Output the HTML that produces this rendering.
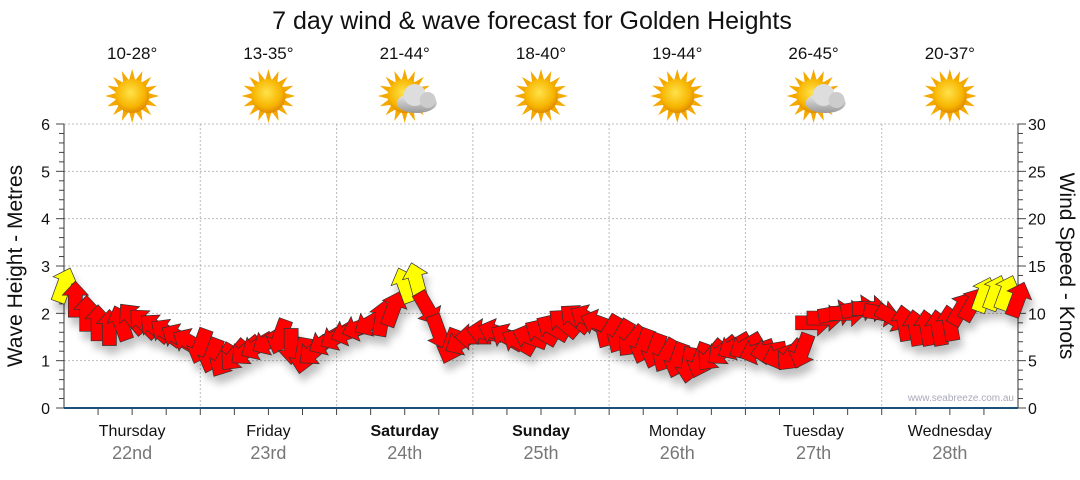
<!DOCTYPE html>
<html><head><meta charset="utf-8"><style>
body{margin:0;background:#fff;width:1080px;height:475px;overflow:hidden;font-family:"Liberation Sans","DejaVu Sans",sans-serif}
svg text{font-family:"Liberation Sans","DejaVu Sans",sans-serif}
</style></head><body>
<svg id="c" width="1080" height="475" xmlns="http://www.w3.org/2000/svg">
<defs>
<filter id="sh" x="-50%" y="-50%" width="200%" height="200%"><feGaussianBlur in="SourceAlpha" stdDeviation="4"/><feOffset dx="3" dy="8"/><feComponentTransfer><feFuncA type="linear" slope="0.25"/></feComponentTransfer><feMerge><feMergeNode/><feMergeNode in="SourceGraphic"/></feMerge></filter>
<radialGradient id="sun" cx="0.45" cy="0.4" r="0.6"><stop offset="0" stop-color="#ffe24a"/><stop offset="0.7" stop-color="#f7b500"/><stop offset="1" stop-color="#e08a00"/></radialGradient>
<linearGradient id="cl" x1="0" y1="0" x2="0" y2="1"><stop offset="0" stop-color="#eee"/><stop offset="1" stop-color="#999"/></linearGradient>
</defs>
<text x="532" y="29" font-size="25" text-anchor="middle" fill="#111">7 day wind &amp; wave forecast for Golden Heights</text>
<g id="grid"></g><g id="icons"></g><g id="axes"></g><g id="marks" filter="url(#sh)"></g>
<text x="1014" y="401" font-size="10" text-anchor="end" fill="#aab">www.seabreeze.com.au</text>
<text transform="translate(22,266) rotate(-90)" font-size="21" text-anchor="middle" fill="#111">Wave Height - Metres</text>
<text transform="translate(1060,266) rotate(90)" font-size="21" text-anchor="middle" fill="#111">Wind Speed - Knots</text>
</svg>
<script>
const days=["Thursday","Friday","Saturday","Sunday","Monday","Tuesday","Wednesday"];
const dates=["22nd","23rd","24th","25th","26th","27th","28th"];
const boldDays=[false,false,true,true,false,false,false];
const temps=["10-28°","13-35°","21-44°","18-40°","19-44°","26-45°","20-37°"];
const cloudy=[false,false,true,false,false,true,false];
const leftTicks=[0,1,2,3,4,5,6];
const rightTicks=[0,5,10,15,20,25,30];
const windSpeed=[13,11.5,10,9,8.5,9,9.5,9,8.5,8,7.5,7,
6.5,5.5,5,5.5,6,6.5,7,7.5,6.5,5.5,6,7,
7.5,8,8.5,9,9.5,10.5,13,13.5,10.5,8,6.5,7,
7.5,8,8,7.5,7,7.5,8,8.5,9,9.5,9.5,9,
8,7.5,7,6.5,6,5.5,5,4.5,5,5.5,6,6.5,
6.5,6,6,5.5,5.5,6,9,9.5,10,10,10.5,10.5,
10,9.5,9,8.5,8.5,8.5,9,10.5,11,12,12.2,12.2,11.5];
const windDir=[20,0,0,0,0,-20,-40,-45,-50,-55,-60,-60,
200,200,210,220,230,240,240,200,180,190,230,240,
240,250,250,240,10,20,-20,-15,150,160,200,240,
270,280,290,300,300,290,300,300,310,310,300,290,
210,210,220,200,200,210,200,190,200,220,230,240,
240,250,260,250,220,200,90,90,80,90,80,90,
100,120,-10,-10,-10,-10,-10,30,30,20,20,20,20];
const X0=64,X1=1018,Y0=408,Y1=124;
const xs=h=>X0+(X1-X0)*h/168;
const yL=m=>Y0-(Y0-Y1)*m/6;
const yR=k=>Y0-(Y0-Y1)*k/30;
const NS="http://www.w3.org/2000/svg";
function mk(t,a,p){const e=document.createElementNS(NS,t);for(const k in a)e.setAttribute(k,a[k]);p.appendChild(e);return e;}
const grid=document.getElementById('grid'),axes=document.getElementById('axes'),icons=document.getElementById('icons'),marks=document.getElementById('marks');
leftTicks.forEach(v=>{if(v>0){const g=mk('line',{x1:X0,x2:X1,y1:yL(v),y2:yL(v),stroke:'#bbb','stroke-dasharray':'2,2'},grid);}
const t=mk('text',{x:50,y:yL(v)+6,'font-size':16,'text-anchor':'end',fill:'#111'},axes);t.textContent=v;});
for(let i=0;i<=30;i++){const y=yL(i/5);const len=i%5==0?8:5;mk('line',{x1:X0-len,x2:X0,y1:y,y2:y,stroke:'#444'},axes);mk('line',{x1:X1,x2:X1+len,y1:y,y2:y,stroke:'#444'},axes);}
rightTicks.forEach(v=>{const t=mk('text',{x:1028,y:yR(v)+6,'font-size':16,fill:'#111'},axes);t.textContent=v;});
for(let d=1;d<7;d++){const g=mk('line',{x1:xs(d*24),x2:xs(d*24),y1:Y1,y2:Y0,stroke:'#bbb','stroke-dasharray':'2,2'},grid);}
for(let h=6;h<168;h+=6){mk('line',{x1:xs(h),x2:xs(h),y1:Y0,y2:Y0+7,stroke:'#444'},axes);}
mk('line',{x1:X0,x2:X0,y1:Y1,y2:Y0,stroke:'#333'},axes);
mk('line',{x1:X1,x2:X1,y1:Y1,y2:Y0,stroke:'#333'},axes);
mk('line',{x1:X0,x2:X1,y1:Y0,y2:Y0,stroke:'#1c4f7a','stroke-width':2},axes);
days.forEach((d,i)=>{const cx=xs(i*24+12);
const t=mk('text',{x:cx,y:436,'font-size':16,'text-anchor':'middle',fill:'#111','font-weight':boldDays[i]?'bold':'normal'},axes);t.textContent=d;
const t2=mk('text',{x:cx,y:459,'font-size':18,'text-anchor':'middle',fill:'#777'},axes);t2.textContent=dates[i];
const t3=mk('text',{x:cx,y:59,'font-size':17,'text-anchor':'middle',fill:'#111'},icons);t3.textContent=temps[i];
const g=mk('g',{transform:`translate(${cx},96)`},icons);
for(let a=0;a<360;a+=22.5){mk('polygon',{points:'-3,-16 3,-16 0,-27',fill:'#f5a800',transform:`rotate(${a})`},g);}
mk('circle',{r:17,fill:'url(#sun)'},g);
if(cloudy[i]){mk('ellipse',{cx:12,cy:7,rx:20,ry:10,fill:'url(#cl)'},g);mk('circle',{cx:10,cy:-1,r:11,fill:'#ddd'},g);mk('circle',{cx:23,cy:4,r:8,fill:'#ccc'},g);}
});
windSpeed.forEach((v,i)=>{const x=xs(i*2),y=yR(v);
const p=mk('polygon',{points:'0,-18 13,-4 7,-4 7,18 -7,18 -7,-4 -13,-4',fill:v>=11.7?'#ffff00':'#ff0000',stroke:'#333','stroke-width':0.7,transform:`translate(${x},${y}) rotate(${windDir[i]})`},marks);

});
</script>
</body></html>
